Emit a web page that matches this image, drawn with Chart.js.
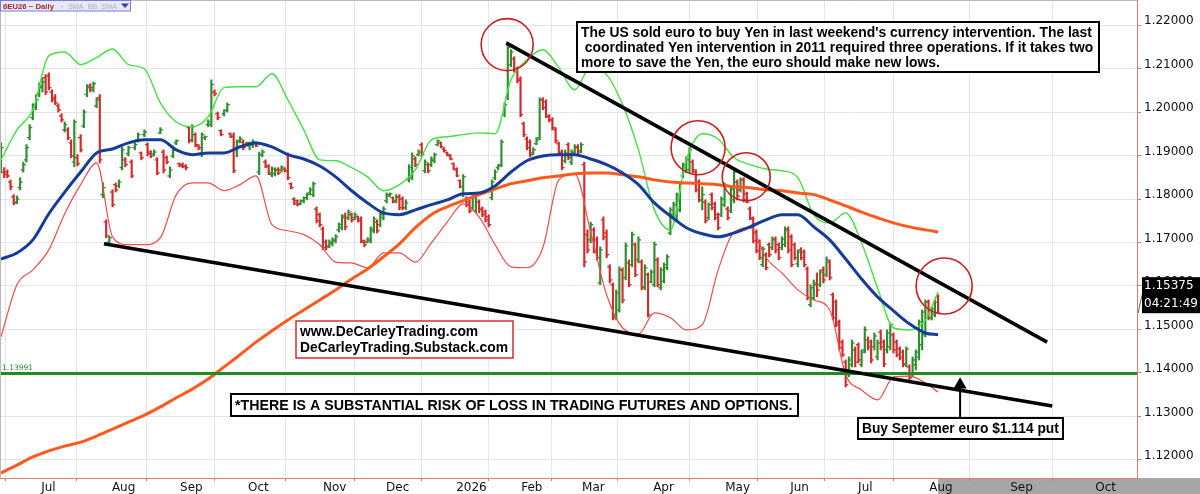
<!DOCTYPE html>
<html>
<head>
<meta charset="utf-8">
<title>6EU26 ~ Daily</title>
<script src="https://cdn.jsdelivr.net/npm/chart.js@4.4.1/dist/chart.umd.min.js"></script>
<style>
html,body{margin:0;padding:0;background:#fff;}
#wrap{width:1200px;height:494px;}
</style>
</head>
<body>
<div id="wrap"><canvas id="chartEuro" width="1200" height="494"></canvas></div>
<script>
// ==========================
// DATA  (6EU26 daily bars, one entry per session)
// ==========================

const highs = [
1.1929,1.1872,1.1867,1.1844,1.1810,1.1807,1.1849,1.1885,1.1925,1.1971,
1.2019,1.2040,1.2067,1.2079,1.2086,1.2090,1.2051,1.2040,1.2019,1.1996,
1.1977,1.1964,1.1936,1.1982,1.1902,1.1948,1.2005,1.2063,1.2065,1.2069,
1.2033,1.2040,1.1837,1.1752,1.1715,1.1821,1.1837,1.1844,1.1920,1.1895,
1.1922,1.1890,1.1929,1.1952,1.1908,1.1959,1.1929,1.1911,1.1913,1.1895,
1.1964,1.1913,1.1899,1.1874,1.1920,1.1936,1.1883,1.1883,1.1879,1.1966,
1.1971,1.1952,1.1925,1.1952,1.1945,1.1982,1.2074,1.2051,1.2000,1.1959,
1.2005,1.2021,1.1952,1.1952,1.1936,1.1943,1.1936,1.1931,1.1931,1.1936,
1.1931,1.1908,1.1913,1.1890,1.1879,1.1874,1.1872,1.1872,1.1876,1.1872,
1.1906,1.1837,1.1803,1.1798,1.1798,1.1805,1.1814,1.1826,1.1839,1.1782,
1.1768,1.1736,1.1706,1.1706,1.1711,1.1718,1.1745,1.1764,1.1768,1.1775,
1.1768,1.1768,1.1761,1.1759,1.1706,1.1711,1.1736,1.1759,1.1752,1.1768,
1.1782,1.1814,1.1814,1.1805,1.1810,1.1810,1.1805,1.1798,1.1879,1.1906,
1.1897,1.1913,1.1929,1.1890,1.1883,1.1897,1.1906,1.1936,1.1931,1.1918,
1.1908,1.1902,1.1883,1.1872,1.1844,1.1856,1.1805,1.1798,1.1810,1.1814,
1.1798,1.1782,1.1775,1.1764,1.1844,1.1867,1.1879,1.1936,1.2021,1.2159,
1.2143,1.2127,1.2104,1.2081,1.1977,1.1943,1.1936,1.1918,1.1941,1.2033,
1.2033,1.2028,1.1994,1.1987,1.1964,1.1931,1.1913,1.1913,1.1929,1.1913,
1.1925,1.1925,1.1929,1.1885,1.1729,1.1747,1.1734,1.1713,1.1690,1.1759,
1.1729,1.1649,1.1607,1.1591,1.1644,1.1642,1.1699,1.1660,1.1724,1.1699,
1.1713,1.1660,1.1649,1.1630,1.1637,1.1701,1.1665,1.1642,1.1653,1.1672,
1.1780,1.1793,1.1814,1.1839,1.1883,1.1897,1.1918,1.1890,1.1867,1.1844,
1.1828,1.1798,1.1791,1.1814,1.1793,1.1768,1.1805,1.1837,1.1782,1.1828,
1.1867,1.1844,1.1849,1.1849,1.1816,1.1782,1.1759,1.1729,1.1706,1.1690,
1.1676,1.1699,1.1713,1.1713,1.1699,1.1713,1.1736,1.1736,1.1718,1.1699,
1.1683,1.1688,1.1683,1.1644,1.1603,1.1614,1.1630,1.1637,1.1644,1.1667,
1.1660,1.1584,1.1568,1.1522,1.1476,1.1430,1.1437,1.1476,1.1460,1.1469,
1.1453,1.1506,1.1483,1.1476,1.1492,1.1476,1.1499,1.1476,1.1499,1.1515,
1.1492,1.1476,1.1460,1.1453,1.1460,1.1419,1.1437,1.1453,1.1522,1.1545,
1.1568,1.1568,1.1552,1.1568,1.1580
];

const lows = [
1.1860,1.1849,1.1849,1.1821,1.1787,1.1789,1.1821,1.1862,1.1885,1.1936,
1.1982,1.2005,1.2035,1.2046,1.2040,1.2051,1.2023,1.2017,1.2000,1.1977,
1.1954,1.1936,1.1895,1.1874,1.1876,1.1908,1.1964,1.2035,1.2046,1.2046,
1.2010,1.1883,1.1803,1.1711,1.1697,1.1782,1.1816,1.1826,1.1867,1.1874,
1.1899,1.1849,1.1913,1.1931,1.1890,1.1943,1.1899,1.1895,1.1899,1.1856,
1.1950,1.1860,1.1881,1.1849,1.1895,1.1925,1.1874,1.1872,1.1867,1.1929,
1.1931,1.1920,1.1913,1.1897,1.1936,1.1966,1.1966,1.2037,1.1982,1.1945,
1.1991,1.2000,1.1941,1.1860,1.1897,1.1929,1.1913,1.1922,1.1913,1.1918,
1.1920,1.1856,1.1897,1.1872,1.1856,1.1851,1.1853,1.1856,1.1862,1.1862,
1.1844,1.1823,1.1787,1.1784,1.1787,1.1791,1.1798,1.1810,1.1805,1.1745,
1.1736,1.1683,1.1683,1.1688,1.1692,1.1699,1.1724,1.1729,1.1729,1.1752,
1.1747,1.1752,1.1747,1.1699,1.1690,1.1699,1.1699,1.1722,1.1722,1.1736,
1.1752,1.1791,1.1805,1.1791,1.1791,1.1775,1.1775,1.1775,1.1839,1.1844,
1.1874,1.1899,1.1897,1.1860,1.1860,1.1874,1.1883,1.1922,1.1918,1.1908,
1.1899,1.1890,1.1867,1.1851,1.1826,1.1805,1.1782,1.1768,1.1775,1.1768,
1.1768,1.1759,1.1747,1.1736,1.1798,1.1844,1.1867,1.1874,1.1989,1.2028,
1.2104,1.2092,1.2067,1.1989,1.1943,1.1913,1.1897,1.1902,1.1925,1.1936,
1.2005,1.1987,1.1977,1.1959,1.1929,1.1902,1.1867,1.1883,1.1890,1.1879,
1.1902,1.1902,1.1906,1.1644,1.1676,1.1699,1.1676,1.1660,1.1603,1.1706,
1.1665,1.1607,1.1522,1.1522,1.1540,1.1561,1.1614,1.1598,1.1644,1.1621,
1.1653,1.1591,1.1591,1.1529,1.1607,1.1598,1.1598,1.1591,1.1607,1.1637,
1.1718,1.1759,1.1752,1.1770,1.1849,1.1860,1.1860,1.1860,1.1816,1.1793,
1.1775,1.1745,1.1752,1.1775,1.1752,1.1729,1.1759,1.1782,1.1752,1.1768,
1.1791,1.1798,1.1816,1.1793,1.1791,1.1752,1.1699,1.1676,1.1660,1.1644,
1.1637,1.1667,1.1683,1.1676,1.1660,1.1683,1.1690,1.1676,1.1644,1.1660,
1.1644,1.1660,1.1644,1.1568,1.1552,1.1568,1.1575,1.1598,1.1607,1.1621,
1.1614,1.1522,1.1506,1.1453,1.1437,1.1368,1.1391,1.1414,1.1414,1.1423,
1.1414,1.1446,1.1453,1.1423,1.1453,1.1430,1.1453,1.1414,1.1446,1.1453,
1.1446,1.1437,1.1430,1.1414,1.1414,1.1384,1.1391,1.1407,1.1430,1.1453,
1.1483,1.1522,1.1522,1.1529,1.1538
];

const opens = [
1.1872,1.1862,1.1862,1.1839,1.1805,1.1793,1.1826,1.1867,1.1890,1.1941,
1.1987,1.2017,1.2040,1.2056,1.2079,1.2083,1.2046,1.2033,1.2014,1.1991,
1.1959,1.1959,1.1929,1.1885,1.1895,1.1941,1.1968,1.2040,1.2060,1.2056,
1.2014,1.2033,1.1810,1.1747,1.1701,1.1816,1.1833,1.1830,1.1872,1.1890,
1.1904,1.1885,1.1918,1.1936,1.1906,1.1948,1.1925,1.1908,1.1904,1.1890,
1.1952,1.1908,1.1895,1.1853,1.1899,1.1929,1.1881,1.1879,1.1876,1.1964,
1.1936,1.1948,1.1922,1.1902,1.1941,1.1971,1.1971,1.2046,1.1996,1.1957,
1.1996,1.2005,1.1950,1.1945,1.1913,1.1934,1.1931,1.1925,1.1922,1.1925,
1.1929,1.1862,1.1902,1.1885,1.1874,1.1856,1.1858,1.1867,1.1867,1.1869,
1.1902,1.1835,1.1800,1.1796,1.1789,1.1796,1.1803,1.1814,1.1810,1.1777,
1.1764,1.1731,1.1701,1.1692,1.1697,1.1704,1.1729,1.1734,1.1761,1.1757,
1.1764,1.1757,1.1759,1.1754,1.1701,1.1701,1.1704,1.1727,1.1747,1.1741,
1.1757,1.1796,1.1807,1.1803,1.1796,1.1805,1.1800,1.1780,1.1844,1.1849,
1.1892,1.1902,1.1925,1.1865,1.1879,1.1879,1.1888,1.1925,1.1929,1.1915,
1.1906,1.1899,1.1881,1.1867,1.1842,1.1810,1.1800,1.1793,1.1780,1.1773,
1.1793,1.1777,1.1770,1.1759,1.1803,1.1849,1.1872,1.1879,1.1994,1.2033,
1.2109,1.2122,1.2099,1.2076,1.1973,1.1938,1.1931,1.1906,1.1927,1.1941,
1.2028,1.2023,1.1989,1.1982,1.1959,1.1927,1.1908,1.1888,1.1925,1.1885,
1.1906,1.1918,1.1911,1.1879,1.1718,1.1706,1.1729,1.1706,1.1607,1.1752,
1.1722,1.1644,1.1603,1.1527,1.1545,1.1637,1.1619,1.1653,1.1649,1.1695,
1.1660,1.1655,1.1598,1.1626,1.1609,1.1603,1.1660,1.1596,1.1611,1.1642,
1.1722,1.1764,1.1757,1.1775,1.1853,1.1865,1.1867,1.1885,1.1862,1.1839,
1.1798,1.1793,1.1757,1.1810,1.1789,1.1764,1.1764,1.1787,1.1777,1.1773,
1.1798,1.1839,1.1821,1.1844,1.1812,1.1777,1.1754,1.1724,1.1701,1.1649,
1.1672,1.1695,1.1688,1.1706,1.1695,1.1688,1.1695,1.1729,1.1713,1.1695,
1.1651,1.1683,1.1678,1.1639,1.1557,1.1573,1.1603,1.1603,1.1637,1.1626,
1.1655,1.1580,1.1563,1.1517,1.1471,1.1425,1.1396,1.1419,1.1453,1.1465,
1.1419,1.1453,1.1476,1.1471,1.1460,1.1437,1.1494,1.1471,1.1453,1.1460,
1.1488,1.1471,1.1455,1.1448,1.1419,1.1414,1.1396,1.1419,1.1437,1.1465,
1.1488,1.1563,1.1527,1.1534,1.1575
];

const closes = [
1.1918,1.1856,1.1853,1.1828,1.1791,1.1800,1.1839,1.1879,1.1918,1.1964,
1.2010,1.2028,1.2060,1.2069,1.2046,1.2056,1.2028,1.2021,1.2005,1.1982,
1.1971,1.1941,1.1899,1.1977,1.1881,1.1913,1.2000,1.2056,1.2051,1.2065,
1.2028,1.1890,1.1826,1.1715,1.1711,1.1787,1.1821,1.1839,1.1913,1.1879,
1.1918,1.1853,1.1925,1.1948,1.1895,1.1954,1.1904,1.1899,1.1908,1.1860,
1.1959,1.1867,1.1885,1.1867,1.1913,1.1934,1.1876,1.1874,1.1872,1.1934,
1.1966,1.1925,1.1918,1.1948,1.1943,1.1977,1.2063,1.2042,1.1987,1.1948,
1.2003,1.2017,1.1943,1.1865,1.1931,1.1938,1.1918,1.1929,1.1927,1.1931,
1.1922,1.1902,1.1908,1.1876,1.1860,1.1869,1.1867,1.1860,1.1874,1.1865,
1.1849,1.1826,1.1789,1.1787,1.1796,1.1803,1.1810,1.1821,1.1835,1.1750,
1.1741,1.1688,1.1690,1.1701,1.1706,1.1713,1.1741,1.1757,1.1736,1.1770,
1.1752,1.1764,1.1750,1.1704,1.1695,1.1708,1.1731,1.1754,1.1727,1.1764,
1.1777,1.1810,1.1812,1.1793,1.1805,1.1780,1.1780,1.1791,1.1872,1.1899,
1.1879,1.1908,1.1902,1.1885,1.1865,1.1892,1.1902,1.1934,1.1920,1.1911,
1.1902,1.1892,1.1869,1.1853,1.1828,1.1851,1.1787,1.1773,1.1803,1.1810,
1.1775,1.1764,1.1752,1.1741,1.1839,1.1862,1.1876,1.1931,1.2017,1.2148,
1.2138,1.2097,1.2072,1.1994,1.1948,1.1918,1.1902,1.1913,1.1936,1.2028,
1.2010,1.1991,1.1982,1.1964,1.1934,1.1906,1.1872,1.1906,1.1895,1.1908,
1.1920,1.1908,1.1925,1.1655,1.1683,1.1741,1.1683,1.1665,1.1683,1.1713,
1.1672,1.1614,1.1529,1.1584,1.1637,1.1568,1.1692,1.1603,1.1718,1.1626,
1.1706,1.1596,1.1642,1.1534,1.1632,1.1695,1.1603,1.1637,1.1649,1.1667,
1.1775,1.1787,1.1810,1.1835,1.1879,1.1890,1.1913,1.1867,1.1821,1.1798,
1.1810,1.1750,1.1787,1.1780,1.1757,1.1734,1.1800,1.1833,1.1757,1.1823,
1.1862,1.1807,1.1844,1.1798,1.1793,1.1757,1.1704,1.1681,1.1665,1.1685,
1.1642,1.1672,1.1708,1.1683,1.1665,1.1708,1.1731,1.1683,1.1649,1.1665,
1.1678,1.1665,1.1649,1.1573,1.1596,1.1607,1.1591,1.1632,1.1614,1.1660,
1.1619,1.1527,1.1511,1.1458,1.1442,1.1373,1.1430,1.1469,1.1425,1.1430,
1.1448,1.1499,1.1460,1.1430,1.1485,1.1469,1.1460,1.1421,1.1492,1.1511,
1.1453,1.1442,1.1435,1.1421,1.1455,1.1389,1.1430,1.1448,1.1517,1.1540,
1.1563,1.1527,1.1547,1.1563,1.15375
];

// indicator readings, one every 5 sessions
const sampleIdx = [0,5,10,15,20,25,30,35,40,45,50,55,60,65,70,75,80,85,90,95,
100,105,110,115,120,125,130,135,140,145,150,155,160,165,170,175,180,185,190,195,
200,205,210,215,220,225,230,235,240,245,250,255,260,265,270,275,280,285,290,294];

const smaFast = [
1.1662,1.1676,1.1706,1.1766,1.1816,1.1862,1.1906,1.1915,1.1929,1.1936,
1.1936,1.1913,1.1902,1.1906,1.1906,1.1920,1.1929,1.1920,1.1902,1.1892,
1.1876,1.1851,1.1819,1.1791,1.1768,1.1764,1.1775,1.1787,1.1798,1.1812,
1.1814,1.1830,1.1862,1.1888,1.1899,1.1902,1.1902,1.1892,1.1879,1.1860,
1.1833,1.1791,1.1761,1.1734,1.1720,1.1713,1.1722,1.1736,1.1752,1.1764,
1.1764,1.1736,1.1706,1.1662,1.1616,1.1575,1.1543,1.1513,1.1492,1.1488
];

const bandUpper = [
1.1890,1.1959,1.2005,1.2129,1.2138,1.2109,1.2125,1.2145,1.2109,1.2099,
1.2021,1.1977,1.1966,1.1989,1.2056,1.2058,1.2058,1.2088,1.2028,1.1959,
1.1890,1.1888,1.1872,1.1851,1.1819,1.1833,1.1867,1.1936,1.1943,1.1948,
1.1952,1.1950,1.2074,1.2120,1.2143,1.2102,1.2051,1.2104,1.2086,1.2017,
1.1913,1.1775,1.1729,1.1890,1.1950,1.1938,1.1895,1.1879,1.1869,1.1865,
1.1849,1.1764,1.1745,1.1768,1.1699,1.1596,1.1504,1.1499,1.1522,1.1586
];

const bandLower = [
1.1483,1.1603,1.1637,1.1683,1.1766,1.1833,1.1883,1.1713,1.1695,1.1695,
1.1711,1.1810,1.1837,1.1837,1.1819,1.1833,1.1853,1.1741,1.1727,1.1718,
1.1695,1.1655,1.1653,1.1642,1.1676,1.1676,1.1655,1.1699,1.1747,1.1789,
1.1759,1.1695,1.1644,1.1642,1.1688,1.1844,1.1858,1.1724,1.1580,1.1504,
1.1490,1.1538,1.1527,1.1499,1.1511,1.1637,1.1724,1.1734,1.1665,1.1630,
1.1591,1.1568,1.1545,1.1396,1.1361,1.1338,1.1391,1.1393,1.1377,1.1356
];

const smaSlow = [
1.1170,1.1188,1.1207,1.1221,1.1232,1.1241,1.1255,1.1271,1.1287,1.1303,
1.1322,1.1343,1.1363,1.1386,1.1414,1.1442,1.1471,1.1497,1.1522,1.1545,
1.1568,1.1591,1.1616,1.1639,1.1667,1.1697,1.1734,1.1764,1.1782,1.1796,
1.1810,1.1823,1.1835,1.1842,1.1849,1.1853,1.1858,1.1860,1.1860,1.1856,
1.1851,1.1844,1.1839,1.1837,1.1835,1.1833,1.1828,1.1826,1.1821,1.1819,
1.1814,1.1810,1.1798,1.1784,1.1770,1.1757,1.1745,1.1736,1.1729,1.1724
];

// drawn-in trendlines, circles, arrow
const trendUpperX = [158.5, 328.2];
const trendUpperY = [1.2159, 1.1471];
const trendLowerX = [32.3, 329.8];
const trendLowerY = [1.1697, 1.1324];
const circleX = [158.8, 218.7, 233.8, 295.9];
const circleY = [1.2155, 1.1918, 1.1851, 1.1600];
const arrowX = [300.9, 300.9];
const arrowY = [1.1299, 1.1373];
const supportLevel = 1.13991;

// axes
const monthPos = [12.6, 34.8, 56.2, 77.5, 101.0, 120.8, 142.8, 163.2, 182.3, 204.6, 227.2, 247.6, 268.9, 291.2, 316.6, 343.3];
const monthLabels = ["Jul","Aug","Sep","Oct","Nov","Dec","2026","Feb","Mar","Apr","May","Jun","Jul","Aug","Sep","Oct"];
const priceTicks = [1.12, 1.13, 1.14, 1.15, 1.16, 1.17, 1.18, 1.19, 1.20, 1.21, 1.22];



// ==========================
// SETTINGS
// ==========================

Chart.defaults.font.family = "DejaVu Sans";
Chart.defaults.color = "#111";

const UP = "#2f8f2f";
const DOWN = "#d22b2b";
const barColor = closes.map((c, i) => c >= opens[i] ? UP : DOWN);
const last = closes.length - 1;

function pts(xs, ys){
  return ys.map((v, k) => ({x: xs[k], y: v}));
}

function fitFont(ctx, txt, target, weight, family){
  ctx.font = weight + " 20px " + family;
  const w = ctx.measureText(txt).width;
  return weight + " " + (20 * target / w).toFixed(2) + "px " + family;
}

function box(ctx, x, y, w, h, stroke, lw){
  ctx.fillStyle = "#fff";
  ctx.fillRect(x, y, w, h);
  ctx.strokeStyle = stroke;
  ctx.lineWidth = lw;
  ctx.strokeRect(x, y, w, h);
}



// ==========================
// ANNOTATIONS
// ==========================

const annotate = {
  id: "annotate",

  beforeDraw(chart){
    const c = chart.ctx, a = chart.chartArea;
    c.save();
    c.fillStyle = "#fff";
    c.fillRect(0, 0, chart.width, chart.height);
    const gx = chart.scales.x.getPixelForValue(last);
    c.fillStyle = "#a6a6a6";
    c.fillRect(gx, a.bottom, chart.width - gx, chart.height - a.bottom);
    c.restore();
  },

  afterDraw(chart){
    const c = chart.ctx, a = chart.chartArea;
    const sx = chart.scales.x, sy = chart.scales.y;
    const bold = "Liberation Sans";
    c.save();

    // frame left / top
    c.strokeStyle = "#b9b9b9";
    c.lineWidth = 1;
    c.beginPath();
    c.moveTo(0.5, 0); c.lineTo(0.5, a.bottom);
    c.moveTo(0, 0.5); c.lineTo(a.right, 0.5);
    c.stroke();

    // support label
    c.fillStyle = "#2a8a2a";
    c.font = fitFont(c, "1.13991", 31, "normal", "DejaVu Sans");
    c.textBaseline = "alphabetic";
    c.textAlign = "left";
    c.fillText("1.13991", 2, sy.getPixelForValue(supportLevel) - 3);

    // main comment
    const lines = [
      "The US sold euro to buy Yen in last weekend's currency intervention. The last",
      " coordinated Yen intervention in 2011 required three operations. If it takes two",
      "more to save the Yen, the euro should make new lows."
    ];
    box(c, 577, 22, 522, 50, "#000", 2);
    c.fillStyle = "#000";
    c.font = fitFont(c, lines[0], 511, "bold", bold);
    c.textBaseline = "middle";
    lines.forEach((t, k) => c.fillText(t, 581, 33 + k * 15));

    // website box
    box(c, 296, 321, 217, 37, "#d03030", 1.5);
    c.fillStyle = "#000";
    c.font = fitFont(c, "DeCarleyTrading.Substack.com", 208, "bold", bold);
    c.fillText("www.DeCarleyTrading.com", 300, 332);
    c.fillText("DeCarleyTrading.Substack.com", 300, 348);

    // disclaimer
    const risk = "*THERE IS A SUBSTANTIAL RISK OF LOSS IN TRADING FUTURES AND OPTIONS.";
    box(c, 231, 394, 567, 22, "#000", 2);
    c.fillStyle = "#000";
    c.font = fitFont(c, risk, 558, "bold", bold);
    c.fillText(risk, 235, 406);

    // put box
    const put = "Buy Septemer euro $1.114 put";
    box(c, 858, 418, 205, 21, "#000", 2);
    c.fillStyle = "#000";
    c.font = fitFont(c, put, 197, "bold", bold);
    c.fillText(put, 862, 429);

    // last price flag
    const yc = sy.getPixelForValue(closes[last]);
    c.strokeStyle = "#666";
    c.lineWidth = 1;
    c.beginPath();
    c.moveTo(a.right + 1, yc);
    c.lineTo(a.right + 5, yc - 18);
    c.stroke();
    c.fillStyle = "#000";
    c.fillRect(1142, yc - 36, 58, 36);
    c.fillStyle = "#fff";
    c.font = "12px DejaVu Sans";
    c.fillText(closes[last].toFixed(5), 1144, yc - 27);
    c.fillText("04:21:49", 1144, yc - 9);

    // symbol legend
    c.fillStyle = "#e7e7f8";
    c.fillRect(0, 0, 131, 11);
    c.strokeStyle = "#7a7ad8";
    c.strokeRect(0.5, 0.5, 130, 10.5);
    c.textBaseline = "alphabetic";
    c.fillStyle = "#a0282d";
    c.font = fitFont(c, "6EU26 ~ Daily", 51, "bold", bold);
    c.fillText("6EU26 ~ Daily", 3, 9);
    c.fillStyle = "#9a9a9a";
    c.fillText("\u00b7", 61, 9);
    c.fillStyle = "#b0b0b8";
    c.font = fitFont(c, "SMA  BB  SMA", 49, "normal", bold);
    c.fillText("SMA  BB  SMA", 68, 9);
    c.fillStyle = "#3a3aa8";
    c.beginPath();
    c.moveTo(121, 3.5); c.lineTo(129, 3.5); c.lineTo(125, 8);
    c.closePath();
    c.fill();

    c.restore();
  }
};



// ==========================
// CHART
// ==========================

new Chart(
document.getElementById("chartEuro"),
{

type:"line",

data:{
  datasets:[

    {
      type:"bar",
      data: highs.map((h, i) => ({x: i, y: [lows[i], h]})),
      backgroundColor: barColor,
      barThickness: 1.5,
      grouped: false,
      order: 10
    },

    {
      type:"scatter",
      data: opens.map((o, i) => ({x: i, y: o})),
      pointStyle: "dash",
      pointRotation: 180,
      pointRadius: 2.6,
      pointBorderColor: barColor,
      pointBorderWidth: 1.3,
      order: 9
    },

    {
      type:"scatter",
      data: closes.map((c, i) => ({x: i, y: c})),
      pointStyle: "dash",
      pointRadius: 2.6,
      pointBorderColor: barColor,
      pointBorderWidth: 1.3,
      order: 9
    },

    {
      data: pts(sampleIdx, bandUpper),
      borderColor: "#45e045",
      borderWidth: 1.4,
      pointRadius: 0,
      cubicInterpolationMode: "monotone",
      order: 6
    },

    {
      data: pts(sampleIdx, bandLower),
      borderColor: "#ee4d4d",
      borderWidth: 1.2,
      pointRadius: 0,
      cubicInterpolationMode: "monotone",
      order: 6
    },

    {
      data: pts(sampleIdx, smaFast),
      borderColor: "#163c98",
      borderWidth: 3,
      pointRadius: 0,
      cubicInterpolationMode: "monotone",
      order: 5
    },

    {
      data: pts(sampleIdx, smaSlow),
      borderColor: "#ff5a1e",
      borderWidth: 3,
      pointRadius: 0,
      cubicInterpolationMode: "monotone",
      order: 5
    },

    {
      data: [{x: -1, y: supportLevel}, {x: 400, y: supportLevel}],
      borderColor: "#218a21",
      borderWidth: 3,
      pointRadius: 0,
      order: 4
    },

    {
      data: pts(trendUpperX, trendUpperY),
      borderColor: "#000",
      borderWidth: 3.5,
      pointRadius: 0,
      order: 3
    },

    {
      data: pts(trendLowerX, trendLowerY),
      borderColor: "#000",
      borderWidth: 3.5,
      pointRadius: 0,
      order: 3
    },

    {
      type:"scatter",
      data: pts(circleX, circleY),
      pointStyle: "circle",
      pointRadius: [26, 27, 24, 28],
      pointBorderColor: "#c81e1e",
      pointBackgroundColor: "rgba(0,0,0,0)",
      pointBorderWidth: 1.6,
      order: 2
    },

    {
      data: pts(arrowX, arrowY),
      borderColor: "#000",
      borderWidth: 2,
      pointRadius: [0, 5.5],
      pointStyle: "triangle",
      pointBackgroundColor: "#000",
      pointBorderColor: "#000",
      order: 2
    }

  ]
},

options:{

  responsive: false,
  animation: false,
  events: [],
  layout: { padding: 0, autoPadding: false },

  plugins:{
    legend: { display: false },
    tooltip: { enabled: false }
  },

  scales:{

    x:{
      type: "linear",
      min: -0.31,
      max: 356.4,
      offset: false,
      grid: { color: "#e4e4e4", tickColor: "#e07a7a", tickLength: 3 },
      border: { color: "#e07a7a" },
      afterBuildTicks(scale){
        scale.ticks = monthPos.map(v => ({value: v}));
      },
      afterFit(scale){
        scale.height = 16;
        scale.paddingLeft = 0;
        scale.paddingRight = 0;
      },
      ticks:{
        align: "start",
        autoSkip: false,
        maxRotation: 0,
        minRotation: 0,
        padding: 0,
        color: "#111",
        font: { size: 12 },
        callback: (v, i) => monthLabels[i]
      }
    },

    y:{
      position: "right",
      min: 1.11586,
      max: 1.22575,
      grid: { color: "#e4e4e4", tickColor: "#e07a7a", tickLength: 4 },
      border: { color: "#e07a7a" },
      afterBuildTicks(scale){
        scale.ticks = priceTicks.map(v => ({value: v}));
      },
      afterFit(scale){
        scale.width = 63;
        scale.paddingTop = 0;
        scale.paddingBottom = 0;
      },
      ticks:{
        autoSkip: false,
        padding: 3,
        labelOffset: -4,
        color: "#111",
        font: { size: 12 },
        callback: v => v.toFixed(5)
      }
    }

  }

},

plugins: [annotate]

});
</script>
</body>
</html>
